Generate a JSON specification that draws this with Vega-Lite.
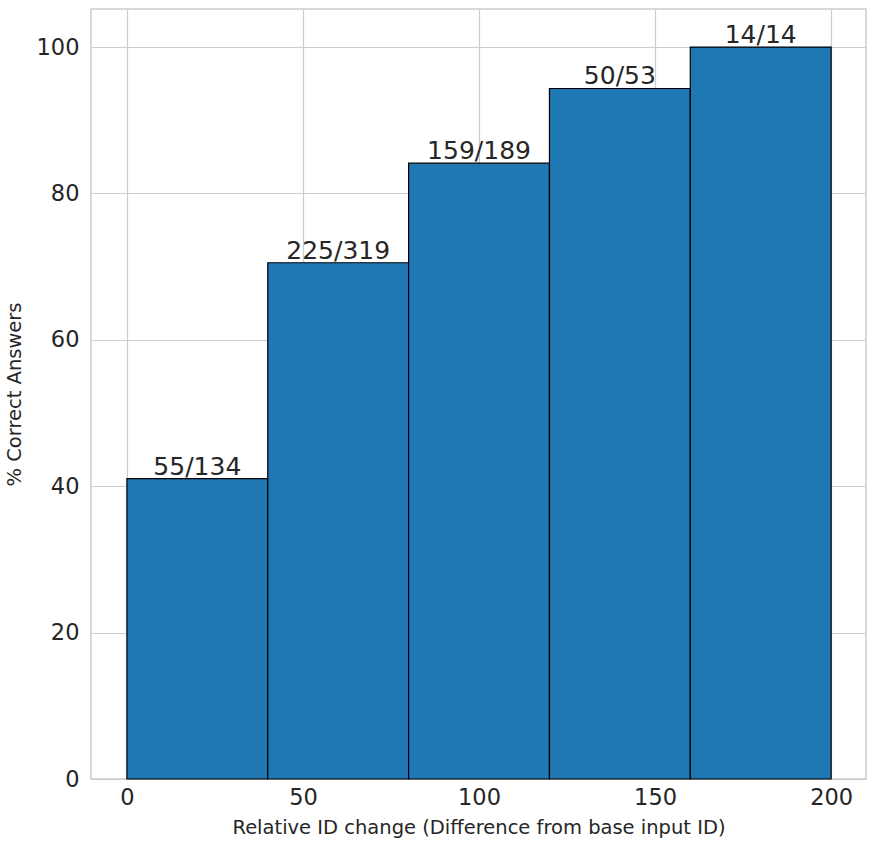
{
  "$schema": "https://vega.github.io/schema/vega-lite/v6.json",
  "width": 775,
  "height": 770,
  "autosize": {"type": "none"},
  "padding": {"left": 91, "top": 9, "right": 10, "bottom": 71},
  "background": "white",
  "config": {
    "font": "DejaVu Sans",
    "view": {"stroke": "#cccccc", "strokeWidth": 1.5},
    "axis": {
      "domain": false,
      "ticks": false,
      "grid": true,
      "gridColor": "#cccccc",
      "gridWidth": 1.2,
      "labelFont": "DejaVu Sans",
      "labelFontSize": 22.5,
      "labelColor": "#262626",
      "titleFont": "DejaVu Sans",
      "titleFontSize": 19.5,
      "titleFontWeight": "normal",
      "titleColor": "#262626"
    }
  },
  "data": {
    "values": [
      {"start": 0, "end": 40, "mid": 20, "pct": 41.04, "label": "55/134"},
      {"start": 40, "end": 80, "mid": 60, "pct": 70.53, "label": "225/319"},
      {"start": 80, "end": 120, "mid": 100, "pct": 84.13, "label": "159/189"},
      {"start": 120, "end": 160, "mid": 140, "pct": 94.34, "label": "50/53"},
      {"start": 160, "end": 200, "mid": 180, "pct": 100, "label": "14/14"}
    ]
  },
  "layer": [
    {
      "mark": {"type": "rect", "color": "#1f77b4", "stroke": "black", "strokeWidth": 1.2},
      "encoding": {
        "x": {
          "field": "start", "type": "quantitative",
          "scale": {"domain": [-10.2, 209.9], "nice": false, "zero": false},
          "axis": {"values": [0, 50, 100, 150, 200], "title": "Relative ID change (Difference from base input ID)", "labelPadding": 7, "titlePadding": 10}
        },
        "x2": {"field": "end"},
        "y": {
          "field": "pct", "type": "quantitative",
          "scale": {"domain": [0, 105.2], "nice": false},
          "axis": {"values": [0, 20, 40, 60, 80, 100], "title": "% Correct Answers", "labelPadding": 12, "titlePadding": 12}
        },
        "y2": {"datum": 0}
      }
    },
    {
      "mark": {"type": "text", "baseline": "bottom", "align": "center", "fontSize": 25, "color": "#262626", "font": "DejaVu Sans", "dy": 1},
      "encoding": {
        "x": {"field": "mid", "type": "quantitative"},
        "y": {"field": "pct", "type": "quantitative"},
        "text": {"field": "label"}
      }
    }
  ]
}
